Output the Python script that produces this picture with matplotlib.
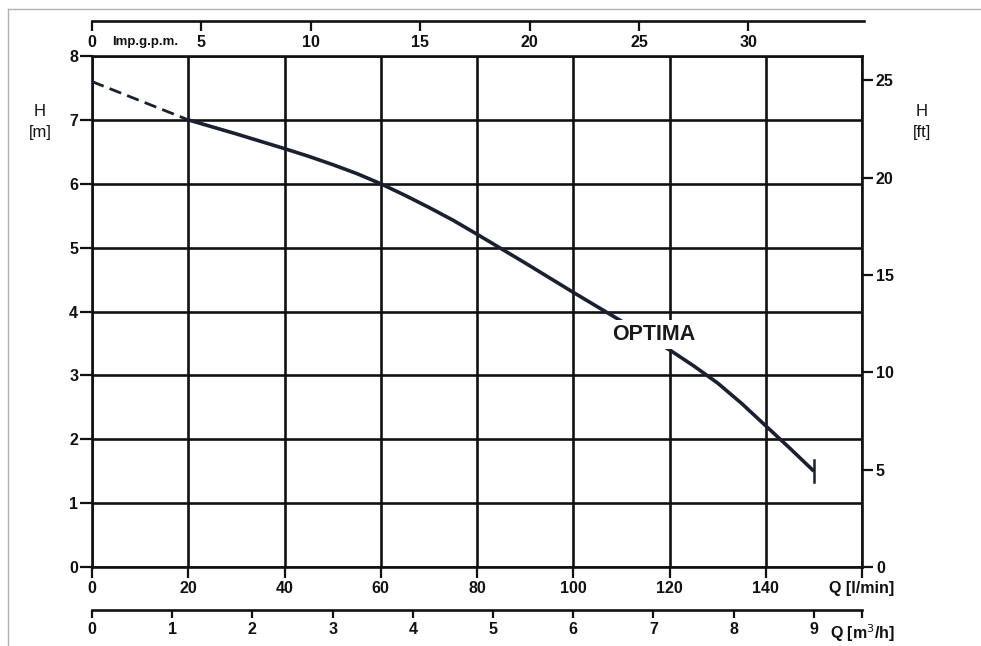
import matplotlib
matplotlib.use("Agg")
import matplotlib.pyplot as plt
from matplotlib.lines import Line2D

# ---- data ----
q_dash = [0, 20]
h_dash = [7.6, 7.0]
q_curve = [20, 30, 40, 45, 50, 55, 60, 65, 70, 75, 80, 90, 100, 110, 120, 125, 130, 135, 140, 145, 150]
h_curve = [7.0, 6.78, 6.55, 6.43, 6.3, 6.16, 6.0, 5.82, 5.63, 5.43, 5.21, 4.76, 4.3, 3.85, 3.4,
           3.15, 2.88, 2.56, 2.21, 1.86, 1.5]
q_ticks = [0, 20, 40, 60, 80, 100, 120, 140, 160]
q_labels = ["0", "20", "40", "60", "80", "100", "120", "140", "Q [l/min]"]
h_ticks = [0, 1, 2, 3, 4, 5, 6, 7, 8]
ft_ticks = [0, 5, 10, 15, 20, 25]
gpm_ticks = [0, 5, 10, 15, 20, 25, 30]
m3h_ticks = [0, 1, 2, 3, 4, 5, 6, 7, 8, 9, 9.6]
m3h_labels = ["0", "1", "2", "3", "4", "5", "6", "7", "8", "9", "Q [m$^3$/h]"]
label = "OPTIMA"

Q_MAX = 160
H_MAX = 8
M_TO_FT = 3.28084
LPM_PER_GPM = 4.54609
LPM_PER_M3H = 1000 / 60

W, H = 981, 646
fig = plt.figure(figsize=(W / 100, H / 100), dpi=100)
fam = ["Liberation Sans", "DejaVu Sans"]
tfont = dict(family=fam, weight="bold", size=11.5)
ink = "#111111"
curve_c = "#1b2030"

# frame lines
fig.add_artist(Line2D([8 / W, 1], [1 - 9 / H, 1 - 9 / H], color="#b0b0b0", lw=1))
fig.add_artist(Line2D([8 / W, 8 / W], [0, 1 - 9 / H], color="#b0b0b0", lw=1))

ax = fig.add_axes([92 / W, 79 / H, 770 / W, 511 / H])
ax.set_xlim(0, Q_MAX)
ax.set_ylim(0, H_MAX)
ax.set_xticks(q_ticks)
ax.set_xticklabels(q_labels, **tfont)
ax.set_yticks(h_ticks)
ax.set_yticklabels([str(t) for t in h_ticks], **tfont)
ax.grid(True, color=ink, lw=1.9)
for s in ax.spines.values():
    s.set_linewidth(1.9)
    s.set_color(ink)
ax.tick_params(axis="x", direction="out", length=8, width=1.6, pad=2, colors=ink)
ax.tick_params(axis="y", direction="out", length=9, width=1.6, pad=1, colors=ink)

ax.plot(q_dash, h_dash, color=curve_c, lw=2.0, dashes=(4.5, 2.3), zorder=5)
ax.plot(q_curve, h_curve, color=curve_c, lw=2.6, zorder=5, solid_capstyle="butt",
        solid_joinstyle="round")
ax.plot([q_curve[-1], q_curve[-1]], [h_curve[-1] - 0.17, h_curve[-1] + 0.17],
        color=curve_c, lw=1.8, zorder=5)

ax.text(108.0, 3.64, label, family=fam, weight="bold",
        size=15.5, color="#1a1a1a", ha="left", va="center", zorder=6,
        bbox=dict(facecolor="white", edgecolor="none", pad=3))

# right ft axis
axr = ax.twinx()
axr.set_ylim(0, H_MAX * M_TO_FT)
axr.set_yticks(ft_ticks)
axr.set_yticklabels([str(t) for t in ft_ticks], **tfont)
axr.tick_params(axis="y", direction="out", length=8, width=1.6, pad=2, colors=ink)
for s in axr.spines.values():
    s.set_visible(False)

lfont = dict(family=fam, size=12, color=ink)
fig.text(40 / W, 1 - 112 / H, "H", ha="center", va="center", **lfont)
fig.text(40 / W, 1 - 132 / H, "[m]", ha="center", va="center", **lfont)
fig.text(922 / W, 1 - 112 / H, "H", ha="center", va="center", **lfont)
fig.text(922 / W, 1 - 132 / H, "[ft]", ha="center", va="center", **lfont)

# top gpm axis
axt = fig.add_axes([92 / W, 1 - 21 / H, 772 / W, 1e-4])
axt.set_xlim(0, Q_MAX / LPM_PER_GPM * 772 / 770)
axt.set_yticks([])
for k in ("top", "left", "right"):
    axt.spines[k].set_visible(False)
axt.spines["bottom"].set_linewidth(1.9)
axt.spines["bottom"].set_color(ink)
axt.set_xticks(gpm_ticks)
axt.set_xticklabels([str(t) for t in gpm_ticks], **tfont)
axt.tick_params(axis="x", direction="out", length=7, width=1.6, pad=3, colors=ink)
axt.patch.set_visible(False)
fig.text(112 / W, 1 - 42 / H, "Imp.g.p.m.", ha="left", va="center",
         family=fam, weight="bold", size=9.5, color=ink)

# bottom m3/h axis
axb = fig.add_axes([92 / W, 1 - 610 / H, 770 / W, 1e-4])
axb.set_xlim(0, Q_MAX / LPM_PER_M3H)
axb.set_yticks([])
for k in ("top", "left", "right"):
    axb.spines[k].set_visible(False)
axb.spines["bottom"].set_linewidth(1.9)
axb.spines["bottom"].set_color(ink)
axb.set_xticks(m3h_ticks)
axb.set_xticklabels(m3h_labels, **tfont)
axb.tick_params(axis="x", direction="out", length=6, width=1.6, pad=3, colors=ink)
axb.patch.set_visible(False)

fig.savefig("out.png", dpi=100, facecolor="white")
